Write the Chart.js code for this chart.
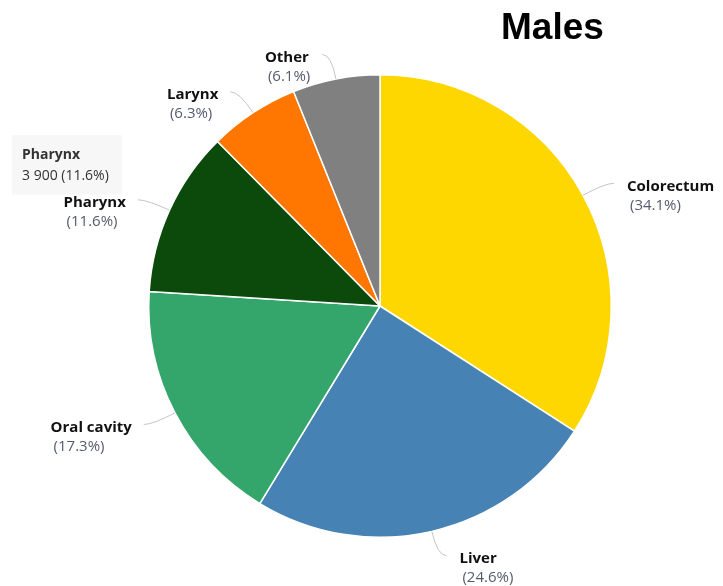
<!DOCTYPE html>
<html>
<head>
<meta charset="utf-8">
<script src="https://cdn.jsdelivr.net/npm/chart.js@4"></script>
<style>
  html, body { margin: 0; padding: 0; background: #fff; }
  #wrap { width: 723px; height: 586px; position: relative; }
</style>
</head>
<body>
<div id="wrap"><canvas id="pie"></canvas></div>
<script>
// sites of cancer, males
const sites   = ["Colorectum", "Liver", "Oral cavity", "Pharynx", "Larynx", "Other"];
const cases   = [11470, 8270, 5820, 3900, 2120, 2050];
const shares  = ["34.1%", "24.6%", "17.3%", "11.6%", "6.3%", "6.1%"];
const colours = ["#FFD700", "#4682B4", "#34A66C", "#0B4A0B", "#FF7700", "#808080"];
const hoverSite = 3; // the tooltip shown in the picture

const LABEL_FONT = '"Open Sans", "Noto Sans", sans-serif';

function fmtNum(n) {
  return String(n).replace(/\B(?=(\d{3})+(?!\d))/g, " ");
}

// leader lines + two-line labels round the pie
const sliceLabels = {
  id: "sliceLabels",
  afterDatasetsDraw(chart) {
    const ctx = chart.ctx;
    const arcs = chart.getDatasetMeta(0).data;
    ctx.save();
    arcs.forEach((arc, i) => {
      const { x: cx, y: cy, outerRadius: r, startAngle, endAngle } = arc.getProps(
        ["x", "y", "outerRadius", "startAngle", "endAngle"], true);
      const mid = (startAngle + endAngle) / 2;
      const dx = Math.cos(mid), dy = Math.sin(mid);
      const right = dx >= 0;
      const p0 = { x: cx + dx * r, y: cy + dy * r };
      const p1 = { x: cx + dx * (r + 25), y: cy + dy * (r + 25) };
      const p2 = { x: p1.x + (right ? 9 : -9), y: p1.y };

      ctx.strokeStyle = "#c4c4c4";
      ctx.lineWidth = 1;
      ctx.beginPath();
      ctx.moveTo(p0.x, p0.y);
      ctx.quadraticCurveTo(p1.x, p1.y, p2.x, p2.y);
      ctx.stroke();

      ctx.font = "bold 15px " + LABEL_FONT;
      const wName = ctx.measureText(sites[i]).width;
      ctx.font = "15px " + LABEL_FONT;
      const wPct = ctx.measureText("(" + shares[i] + ")").width + 3;
      const boxW = Math.max(wName, wPct);
      const bx = right ? p2.x + 13 : p2.x - 12 - boxW;
      const ny = p2.y + 3;

      ctx.textBaseline = "middle";
      ctx.textAlign = "left";
      ctx.fillStyle = "#111";
      ctx.font = "bold 15px " + LABEL_FONT;
      ctx.fillText(sites[i], bx, ny);
      ctx.fillStyle = "#545c6c";
      ctx.font = "15px " + LABEL_FONT;
      ctx.fillText("(" + shares[i] + ")", bx + 3, ny + 19);
    });

    ctx.fillStyle = "#000";
    ctx.font = "bold 37px 'Liberation Sans', Arial, sans-serif";
    ctx.textAlign = "left";
    ctx.textBaseline = "alphabetic";
    ctx.fillText("Males", 501, 39);
    ctx.restore();
  }
};

Chart.Tooltip.positioners.pinned = function () {
  return { x: 12, y: 135 };
};

const chart = new Chart(document.getElementById("pie"), {
  type: "pie",
  data: {
    labels: sites,
    datasets: [{
      data: cases,
      backgroundColor: colours,
      hoverBackgroundColor: colours,
      borderColor: "#ffffff",
      borderWidth: 1.5,
      hoverBorderColor: "#ffffff",
      hoverOffset: 0
    }]
  },
  options: {
    responsive: true,
    maintainAspectRatio: false,
    animation: false,
    events: [],
    layout: { padding: { left: 148, right: 111, top: 74, bottom: 48 } },
    plugins: {
      legend: { display: false },
      title: { display: false },
      tooltip: {
        position: "pinned",
        xAlign: "left",
        yAlign: "top",
        caretSize: 0,
        caretPadding: 0,
        cornerRadius: 0,
        padding: { top: 12, bottom: 10, left: 10, right: 13 },
        backgroundColor: "rgba(246,246,246,0.92)",
        titleColor: "#333",
        bodyColor: "#333",
        titleFont: { family: LABEL_FONT, size: 14, weight: "bold" },
        bodyFont: { family: LABEL_FONT, size: 14 },
        titleMarginBottom: 4,
        displayColors: false,
        callbacks: {
          title: items => sites[items[0].dataIndex],
          label: item => fmtNum(cases[item.dataIndex]) + " (" + shares[item.dataIndex] + ")"
        }
      }
    }
  },
  plugins: [sliceLabels]
});

chart.tooltip.setActiveElements([{ datasetIndex: 0, index: hoverSite }], { x: 12, y: 135 });
chart.update();
</script>
</body>
</html>
